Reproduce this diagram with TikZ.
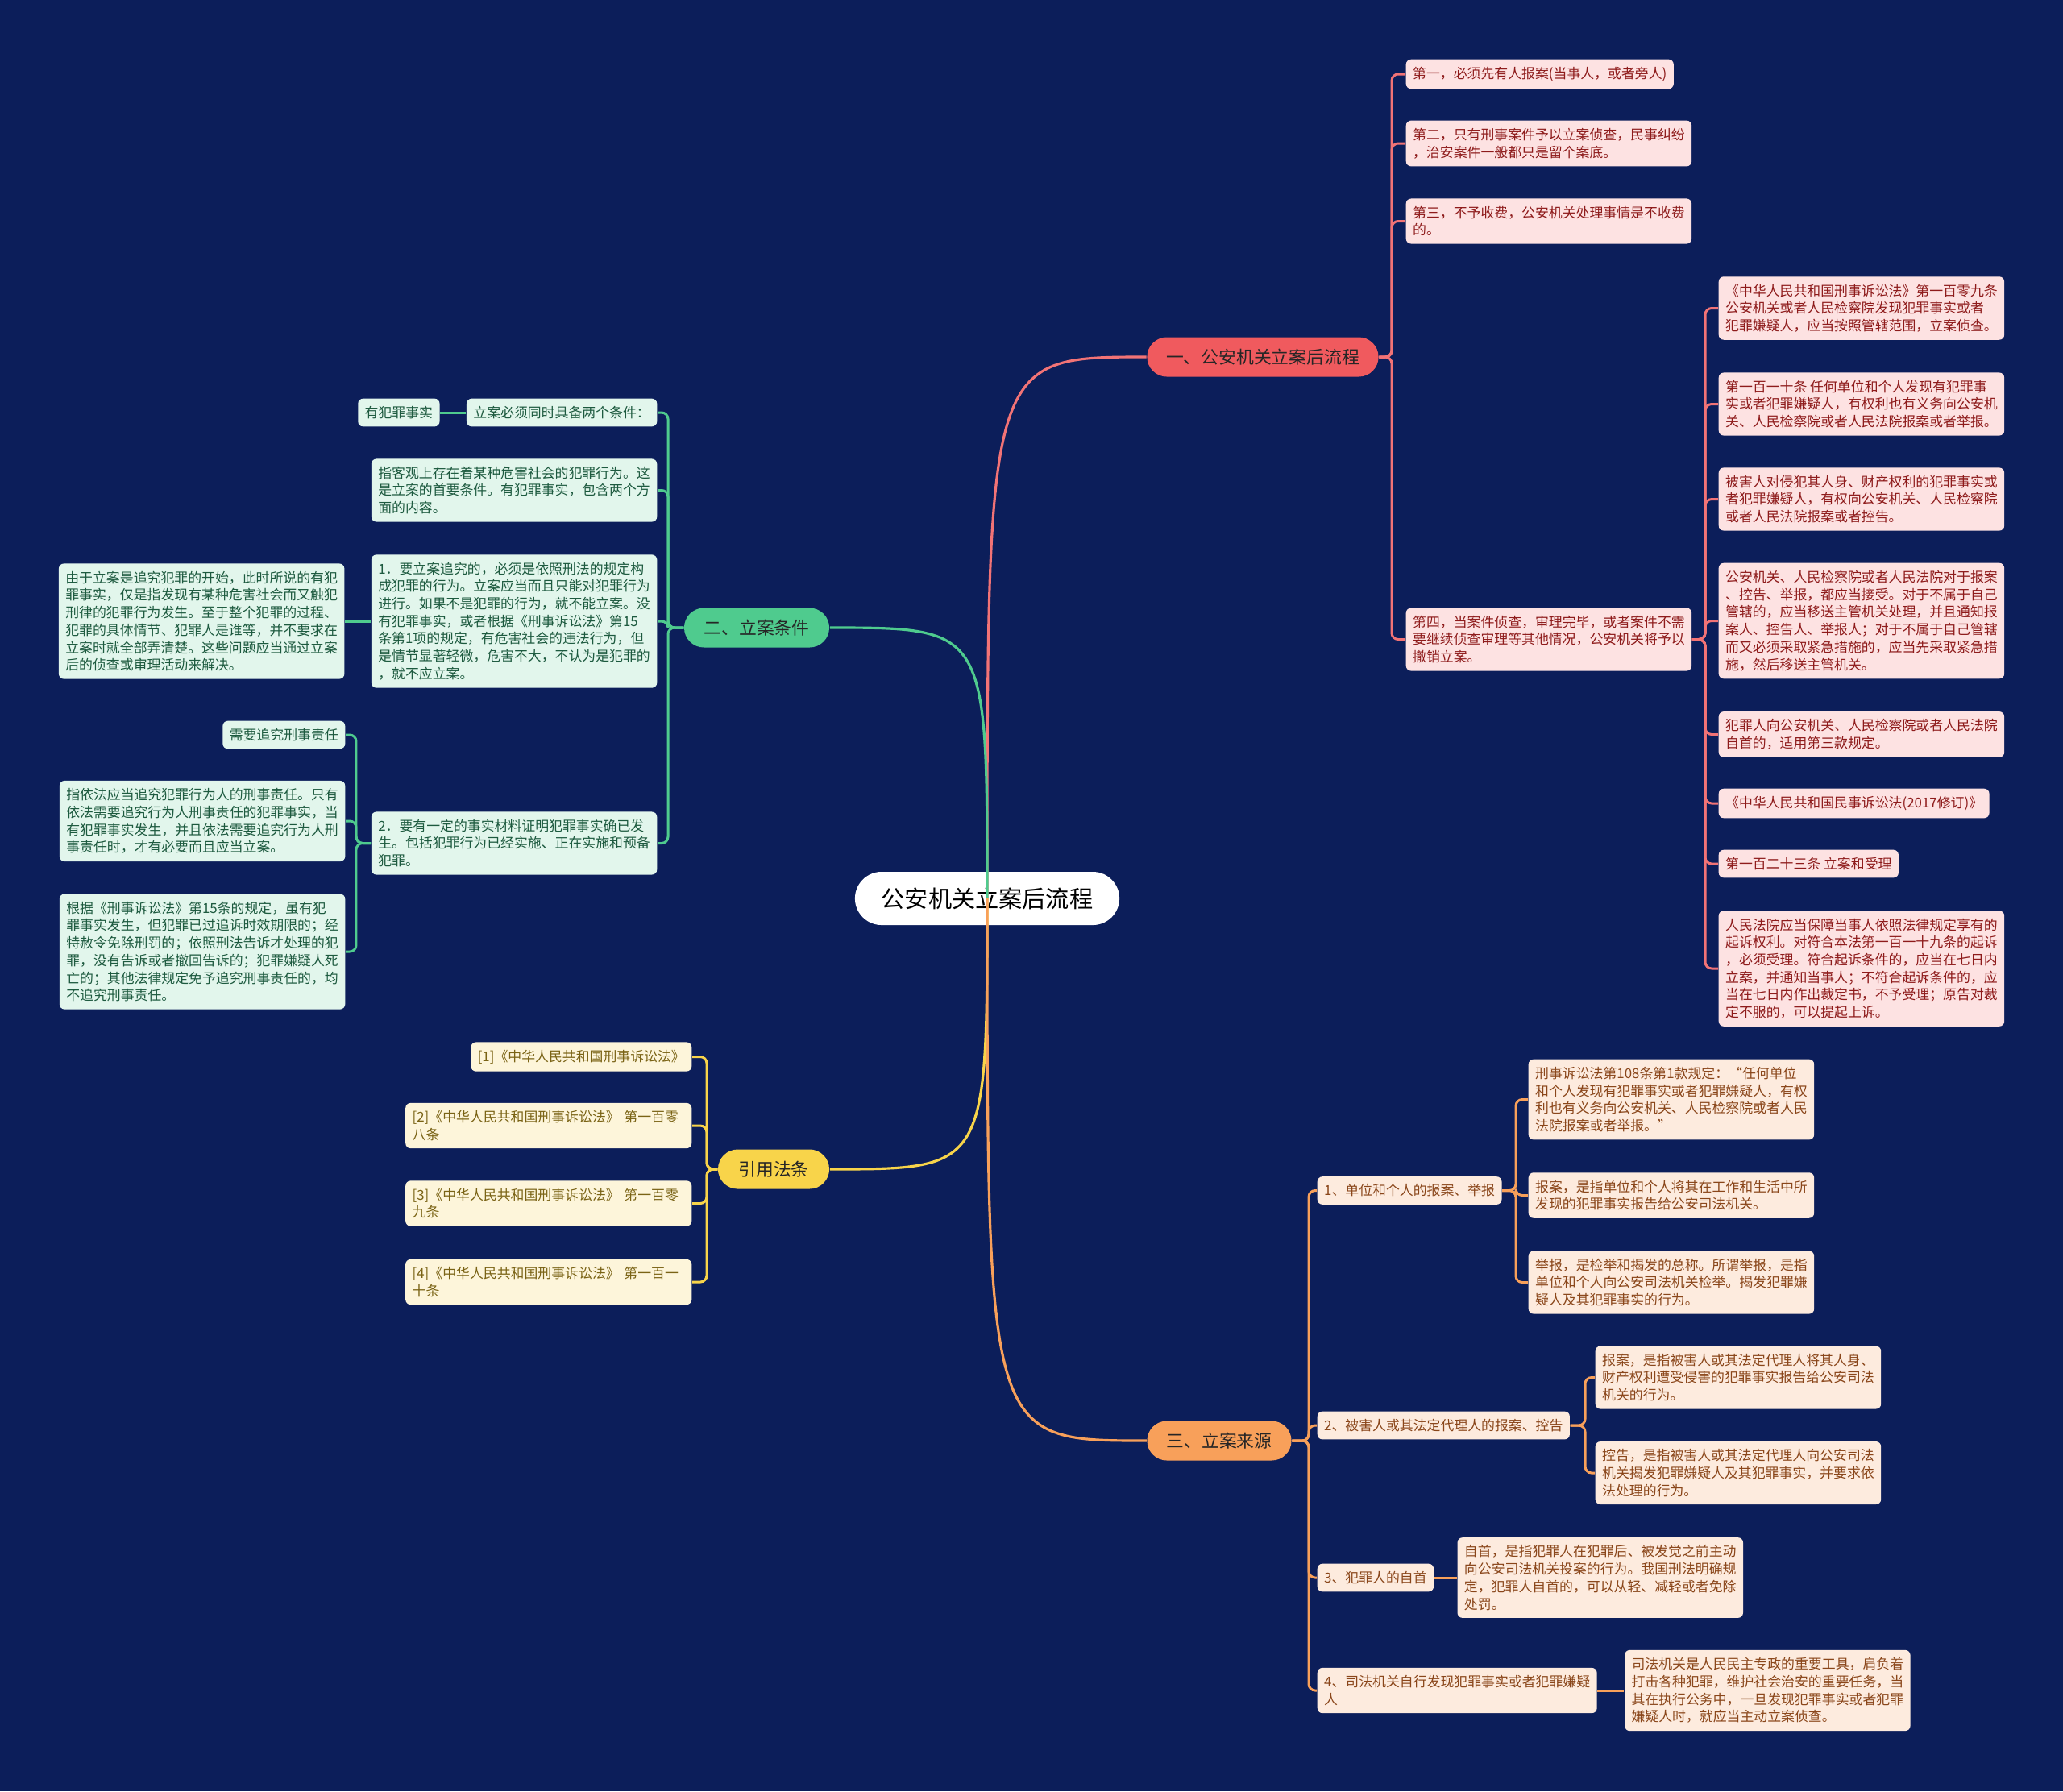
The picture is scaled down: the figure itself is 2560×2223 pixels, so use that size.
\documentclass[tikz,border=0pt]{standalone}
\usepackage{fontspec}
\newfontfamily\cjk{Noto Sans CJK SC}
\usepackage{xcolor}
\definecolor{bgnavy}{HTML}{0C1E5A}
\definecolor{redmain}{HTML}{F05A5E}
\definecolor{redleaf}{HTML}{FDE2E2}
\definecolor{redtext}{HTML}{8E1B1B}
\definecolor{greenmain}{HTML}{4FCB8E}
\definecolor{greenleaf}{HTML}{E2F6EC}
\definecolor{greentext}{HTML}{1D5A3F}
\definecolor{yellowmain}{HTML}{F8D44A}
\definecolor{yellowleaf}{HTML}{FDF5DA}
\definecolor{yellowtext}{HTML}{7A6315}
\definecolor{orangemain}{HTML}{F8A05A}
\definecolor{orangeleaf}{HTML}{FDEBDE}
\definecolor{orangetext}{HTML}{8A461A}
\usepackage{tikz}
\usetikzlibrary{positioning}
\tikzset{
  every node/.style={font=\cjk},
  rootnode/.style={
    rectangle, rounded corners=0.33cm, fill=white, text=black,
    minimum width=3.28cm, minimum height=0.66cm, inner sep=0pt,
    font=\cjk\fontsize{8.3pt}{10pt}\selectfont
  },
  branchnode/.style={
    rectangle, rounded corners=0.245cm, minimum height=0.49cm,
    inner sep=0pt, text=black!85,
    font=\cjk\fontsize{6.2pt}{7.5pt}\selectfont
  },
  leafnode/.style={
    rectangle, rounded corners=1.8pt, align=left,
    inner xsep=2.4pt, inner ysep=2.7pt,
    font=\cjk\fontsize{4.8pt}{6.17pt}\selectfont
  },
  redbox/.style={leafnode, fill=redleaf, text=redtext},
  greenbox/.style={leafnode, fill=greenleaf, text=greentext},
  yellowbox/.style={leafnode, fill=yellowleaf, text=yellowtext},
  orangebox/.style={leafnode, fill=orangeleaf, text=orangetext},
  redlink/.style={draw=redmain!85!white, line width=0.85pt, rounded corners=0.08cm},
  greenlink/.style={draw=greenmain, line width=0.85pt, rounded corners=0.08cm},
  yellowlink/.style={draw=yellowmain, line width=0.85pt, rounded corners=0.08cm},
  orangelink/.style={draw=orangemain, line width=0.85pt, rounded corners=0.08cm}
}

\begin{document}
\begin{tikzpicture}[x=0.01cm, y=-0.01cm]
\useasboundingbox (0,0) rectangle (2560,2223);
\fill[bgnavy] (0,0) rectangle (2560,2223);

% root and main branches
\node[rootnode] (root) at (1225,1115) {公安机关立案后流程};
\node[branchnode, fill=redmain, minimum width=2.87cm] (b1) at (1567,443) {一、公安机关立案后流程};
\node[branchnode, fill=greenmain, minimum width=1.8cm] (b2) at (939,779) {二、立案条件};
\node[branchnode, fill=yellowmain, minimum width=1.38cm] (b3) at (960,1451) {引用法条};
\node[branchnode, fill=orangemain, minimum width=1.79cm] (b4) at (1513,1788) {三、立案来源};

% spines
\coordinate (sp1) at (1727,0);
\coordinate (sp2) at (2116,0);
\coordinate (sg1) at (829,0);
\coordinate (sg2) at (442,0);
\coordinate (sy) at (877,0);
\coordinate (so) at (1624,0);
\coordinate (so1) at (1881,0);
\coordinate (so2) at (1967,0);

% 一、公安机关立案后流程
\node[redbox, anchor=west] (r1) at (1744,92) {第一，必须先有人报案(当事人，或者旁人)};
\node[redbox, anchor=west] (r2) at (1744,178) {第二，只有刑事案件予以立案侦查，民事纠纷\\，治安案件一般都只是留个案底。};
\node[redbox, anchor=west] (r3) at (1744,274.5) {第三，不予收费，公安机关处理事情是不收费\\的。};
\node[redbox, anchor=west] (r4) at (1744,793.5) {第四，当案件侦查，审理完毕，或者案件不需\\要继续侦查审理等其他情况，公安机关将予以\\撤销立案。};

\node[redbox, anchor=west] (s1) at (2132,382.5) {《中华人民共和国刑事诉讼法》第一百零九条\\ 公安机关或者人民检察院发现犯罪事实或者\\犯罪嫌疑人，应当按照管辖范围，立案侦查。};
\node[redbox, anchor=west] (s2) at (2132,501.5) {第一百一十条 任何单位和个人发现有犯罪事\\实或者犯罪嫌疑人，有权利也有义务向公安机\\关、人民检察院或者人民法院报案或者举报。};
\node[redbox, anchor=west] (s3) at (2132,619.5) {被害人对侵犯其人身、财产权利的犯罪事实或\\者犯罪嫌疑人，有权向公安机关、人民检察院\\或者人民法院报案或者控告。};
\node[redbox, anchor=west] (s4) at (2132,770.5) {公安机关、人民检察院或者人民法院对于报案\\、控告、举报，都应当接受。对于不属于自己\\管辖的，应当移送主管机关处理，并且通知报\\案人、控告人、举报人；对于不属于自己管辖\\而又必须采取紧急措施的，应当先采取紧急措\\施，然后移送主管机关。};
\node[redbox, anchor=west] (s5) at (2132,911.5) {犯罪人向公安机关、人民检察院或者人民法院\\自首的，适用第三款规定。};
\node[redbox, anchor=west] (s6) at (2132,997) {《中华人民共和国民事诉讼法(2017修订)》};
\node[redbox, anchor=west] (s7) at (2132,1072) {第一百二十三条 立案和受理};
\node[redbox, anchor=west] (s8) at (2132,1202) {人民法院应当保障当事人依照法律规定享有的\\起诉权利。对符合本法第一百一十九条的起诉\\，必须受理。符合起诉条件的，应当在七日内\\立案，并通知当事人；不符合起诉条件的，应\\当在七日内作出裁定书，不予受理；原告对裁\\定不服的，可以提起上诉。};

% 二、立案条件
\node[greenbox, anchor=east] (g1) at (816,512) {立案必须同时具备两个条件：};
\node[greenbox, left=0.32cm of g1] (g1a) {有犯罪事实};
\node[greenbox, anchor=east] (g2) at (816,608.5) {指客观上存在着某种危害社会的犯罪行为。这\\是立案的首要条件。有犯罪事实，包含两个方\\面的内容。};
\node[greenbox, anchor=east] (g3) at (816,771) {1．要立案追究的，必须是依照刑法的规定构\\成犯罪的行为。立案应当而且只能对犯罪行为\\进行。如果不是犯罪的行为，就不能立案。没\\有犯罪事实，或者根据《刑事诉讼法》第15\\条第1项的规定，有危害社会的违法行为，但\\是情节显著轻微，危害不大，不认为是犯罪的\\，就不应立案。};
\node[greenbox, left=0.32cm of g3] (g3a) {由于立案是追究犯罪的开始，此时所说的有犯\\罪事实，仅是指发现有某种危害社会而又触犯\\刑律的犯罪行为发生。至于整个犯罪的过程、\\犯罪的具体情节、犯罪人是谁等，并不要求在\\立案时就全部弄清楚。这些问题应当通过立案\\后的侦查或审理活动来解决。};
\node[greenbox, anchor=east] (g4) at (816,1046.5) {2．要有一定的事实材料证明犯罪事实确已发\\生。包括犯罪行为已经实施、正在实施和预备\\犯罪。};
\node[greenbox, anchor=east] (g4a) at (429,912) {需要追究刑事责任};
\node[greenbox, anchor=east] (g4b) at (429,1019) {指依法应当追究犯罪行为人的刑事责任。只有\\依法需要追究行为人刑事责任的犯罪事实，当\\有犯罪事实发生，并且依法需要追究行为人刑\\事责任时，才有必要而且应当立案。};
\node[greenbox, anchor=east] (g4c) at (429,1181) {根据《刑事诉讼法》第15条的规定，虽有犯\\罪事实发生，但犯罪已过追诉时效期限的；经\\特赦令免除刑罚的；依照刑法告诉才处理的犯\\罪，没有告诉或者撤回告诉的；犯罪嫌疑人死\\亡的；其他法律规定免予追究刑事责任的，均\\不追究刑事责任。};

% 引用法条
\node[yellowbox, anchor=east] (y1) at (859,1311.5) {[1]《中华人民共和国刑事诉讼法》};
\node[yellowbox, anchor=east, text width=3.38cm] (y2) at (859,1397) {[2]《中华人民共和国刑事诉讼法》 第一百零\\八条};
\node[yellowbox, anchor=east, text width=3.38cm] (y3) at (859,1493.5) {[3]《中华人民共和国刑事诉讼法》 第一百零\\九条};
\node[yellowbox, anchor=east, text width=3.38cm] (y4) at (859,1591) {[4]《中华人民共和国刑事诉讼法》 第一百一\\十条};

% 三、立案来源
\node[orangebox, anchor=west] (o1) at (1634,1477.5) {1、单位和个人的报案、举报};
\node[orangebox, anchor=west] (o1a) at (1896,1364.5) {刑事诉讼法第108条第1款规定：“任何单位\\和个人发现有犯罪事实或者犯罪嫌疑人，有权\\利也有义务向公安机关、人民检察院或者人民\\法院报案或者举报。”};
\node[orangebox, anchor=west] (o1b) at (1896,1483.5) {报案，是指单位和个人将其在工作和生活中所\\发现的犯罪事实报告给公安司法机关。};
\node[orangebox, anchor=west] (o1c) at (1896,1591.5) {举报，是检举和揭发的总称。所谓举报，是指\\单位和个人向公安司法机关检举。揭发犯罪嫌\\疑人及其犯罪事实的行为。};
\node[orangebox, anchor=west] (o2) at (1634,1769) {2、被害人或其法定代理人的报案、控告};
\node[orangebox, anchor=west] (o2a) at (1979,1709.5) {报案，是指被害人或其法定代理人将其人身、\\财产权利遭受侵害的犯罪事实报告给公安司法\\机关的行为。};
\node[orangebox, anchor=west] (o2b) at (1979,1828) {控告，是指被害人或其法定代理人向公安司法\\机关揭发犯罪嫌疑人及其犯罪事实，并要求依\\法处理的行为。};
\node[orangebox, anchor=west] (o3) at (1634,1958) {3、犯罪人的自首};
\node[orangebox, right=0.28cm of o3] (o3a) {自首，是指犯罪人在犯罪后、被发觉之前主动\\向公安司法机关投案的行为。我国刑法明确规\\定，犯罪人自首的，可以从轻、减轻或者免除\\处罚。};
\node[orangebox, anchor=west] (o4) at (1634,2098) {4、司法机关自行发现犯罪事实或者犯罪嫌疑\\人};
\node[orangebox, right=0.33cm of o4] (o4a) {司法机关是人民民主专政的重要工具，肩负着\\打击各种犯罪，维护社会治安的重要任务，当\\其在执行公务中，一旦发现犯罪事实或者犯罪\\嫌疑人时，就应当主动立案侦查。};

% links
\foreach \c in {r1,r2,r3,r4}
  \draw[redlink] (b1.east) -- (b1.east -| sp1) |- (\c.west);
\foreach \c in {s1,s2,s3,s4,s5,s6,s7,s8}
  \draw[redlink] (r4.east) -- (r4.east -| sp2) |- (\c.west);
\foreach \c in {g1,g2,g3,g4}
  \draw[greenlink] (b2.west) -- (b2.west -| sg1) |- (\c.east);
\draw[greenlink] (g1.west) -- (g1a.east);
\draw[greenlink] (g3.west) -- (g3a.east);
\foreach \c in {g4a,g4b,g4c}
  \draw[greenlink] (g4.west) -- (g4.west -| sg2) |- (\c.east);
\foreach \c in {y1,y2,y3,y4}
  \draw[yellowlink] (b3.west) -- (b3.west -| sy) |- (\c.east);
\foreach \c in {o1,o2,o3,o4}
  \draw[orangelink] (b4.east) -- (b4.east -| so) |- (\c.west);
\foreach \c in {o1a,o1b,o1c}
  \draw[orangelink] (o1.east) -- (o1.east -| so1) |- (\c.west);
\foreach \c in {o2a,o2b}
  \draw[orangelink] (o2.east) -- (o2.east -| so2) |- (\c.west);
\draw[orangelink] (o3.east) -- (o3a.west);
\draw[orangelink] (o4.east) -- (o4a.west);

% main curves
\draw[redmain!85!white, line width=0.9pt] (root.center) .. controls (root.center |- b1.west) .. (b1.west);
\draw[greenmain, line width=0.9pt] (root.center) .. controls (root.center |- b2.east) .. (b2.east);
\draw[yellowmain, line width=0.9pt] (root.center) .. controls (root.center |- b3.east) .. (b3.east);
\draw[orangemain, line width=0.9pt] (root.center) .. controls (root.center |- b4.west) .. (b4.west);
\end{tikzpicture}
\end{document}
